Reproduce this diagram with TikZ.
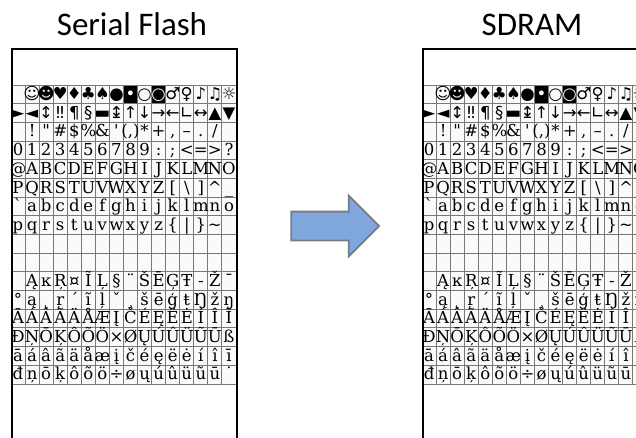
\documentclass[tikz,border=0pt]{standalone}
\usepackage{fontspec}
\setmainfont{Carlito}
\newfontfamily\tableserif{DejaVu Serif}
\newfontfamily\tablesans{DejaVu Sans}
\usepackage{xcolor}
\usepackage{tikz}
\usetikzlibrary{positioning, shapes.arrows}

\definecolor{arrowblue}{RGB}{127,167,222}
\definecolor{arrowedge}{RGB}{118,124,134}
\definecolor{gridgray}{RGB}{120,120,120}

% one 16x16 code page table, left edge at x = #1
\newcommand{\codetable}[1]{%
  \fill[gray!4] (#1,85) rectangle ++(225,299);
  \fill[black] (#1+8*14.0625,85) rectangle ++(14.0625,18.6875);
  \fill[black] (#1+10*14.0625,85) rectangle ++(14.0625,18.6875);
  \foreach \k in {0,...,16} {
    \draw[gridline] (#1+\k*14.0625,85) -- ++(0,299);
    \draw[gridline] (#1,85+\k*18.6875) -- ++(225,0);
  }
  \foreach \glyphs [count=\r from 0] in {
    {{},☺,☻,♥,♦,♣,♠,●,\textcolor{white}{•},○,\textcolor{white}{○},♂,♀,♪,♫,☼},
    {►,◄,↕,‼,¶,§,▬,↨,↑,↓,→,←,∟,↔,▲,▼},
    {{},!,",\#,\$,\%,\&,',(,),*,+,{,},–,.,/},
    {0,1,2,3,4,5,6,7,8,9,:,;,<,=,>,?},
    {@,A,B,C,D,E,F,G,H,I,J,K,L,M,N,O},
    {P,Q,R,S,T,U,V,W,X,Y,Z,[,\textbackslash,],\textasciicircum,\_},
    {\textasciigrave,a,b,c,d,e,f,g,h,i,j,k,l,m,n,o},
    {p,q,r,s,t,u,v,w,x,y,z,\{,|,\},\textasciitilde,{}},
    {{}},
    {{}},
    {{},Ą,ĸ,Ŗ,¤,Ĩ,Ļ,§,¨,Š,Ē,Ģ,Ŧ,-,Ž,¯},
    {°,ą,˛,ŗ,´,ĩ,ļ,ˇ,¸,š,ē,ģ,ŧ,Ŋ,ž,ŋ},
    {Ā,Á,Â,Ã,Ä,Å,Æ,Į,Č,É,Ę,Ë,Ė,Í,Î,Ī},
    {Đ,Ņ,Ō,Ķ,Ô,Õ,Ö,×,Ø,Ų,Ú,Û,Ü,Ũ,Ū,ß},
    {ā,á,â,ã,ä,å,æ,į,č,é,ę,ë,ė,í,î,ī},
    {đ,ņ,ō,ķ,ô,õ,ö,÷,ø,ų,ú,û,ü,ũ,ū,˙}} {
    \foreach \g [count=\c from 0] in \glyphs
      \node[glyph] at (#1+\c*14.0625+7.03,85+\r*18.6875+14.6) {\ifnum\r<2 \tablesans\fi\g};
  }
}

\begin{document}
\begin{tikzpicture}[x=1pt, y=-1pt,
    gridline/.style={draw=gridgray, line width=0.9pt},
    glyph/.style={anchor=base, inner sep=0pt, font=\tableserif\fontsize{16.5}{16.5}\selectfont},
    membox/.style={draw=black, line width=2pt, minimum width=225pt, minimum height=412pt,
      anchor=north west, inner sep=0pt},
    memtitle/.style={anchor=base, font=\fontsize{33}{34}\selectfont},
    copyarrow/.style={single arrow, draw=arrowedge, fill=arrowblue, line width=1.8pt,
      minimum height=88pt, inner xsep=0pt, inner ysep=13.5pt,
      single arrow head extend=16pt, outer sep=0pt}]
    \useasboundingbox (0,0) rectangle (636,437);
    \clip (0,0) rectangle (636,437);

    % Flash side
    \codetable{11}
    \node[membox] (flash) at (11,48) {};
    \node[memtitle] (flashtitle) at (132,35) {Serial Flash};

    % SDRAM side
    \codetable{422}
    \node[membox] (sdram) at (422,48) {};
    \node[memtitle] (sdramtitle) at (532,35) {SDRAM};

    % copy
    \node[copyarrow] (copy) at (328,226) {};
\end{tikzpicture}
\end{document}
